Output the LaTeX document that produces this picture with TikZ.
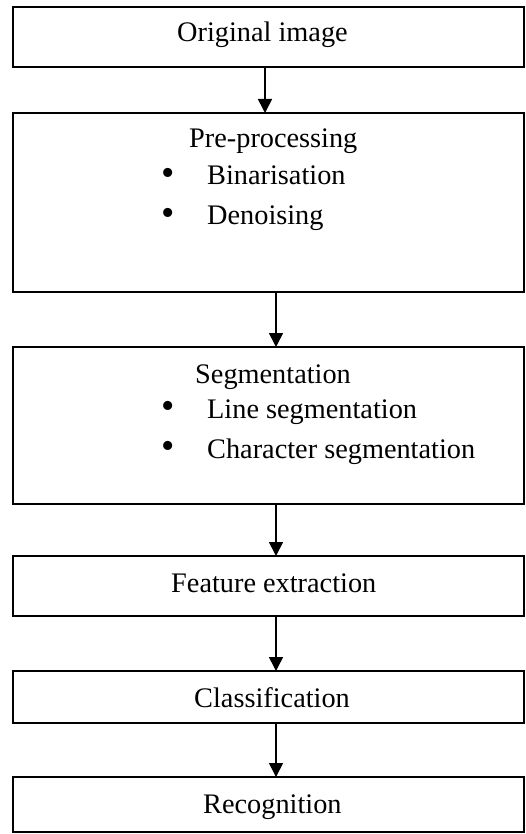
\documentclass[tikz,border=0pt]{standalone}
\usepackage{fontspec}
\setmainfont{Liberation Serif}
\usetikzlibrary{arrows.meta}
\begin{document}
\begin{tikzpicture}[x=1pt,y=1pt,
  box/.style={draw=black,line width=1.3pt,fill=none,inner sep=0pt,outer sep=0pt,anchor=north west,minimum width=511pt},
  lbl/.style={inner sep=0pt,anchor=base west,font=\fontsize{28.3}{33}\selectfont},
  bul/.style={inner sep=0pt,anchor=center,font=\fontsize{38}{40}\selectfont},
  arr/.style={line width=1.6pt,-{Triangle[width=14pt,length=14pt]}}]
\useasboundingbox (0,0) rectangle (525,-834);
% boxes
\node[box,minimum height=60pt]  (b1) at (13,-7) {};
\node[box,minimum height=179pt] (b2) at (13,-113) {};
\node[box,minimum height=157pt] (b3) at (13,-347) {};
\node[box,minimum height=60pt]  (b4) at (13,-556) {};
\node[box,minimum height=52pt]  (b5) at (13,-671) {};
\node[box,minimum height=55pt]  (b6) at (13,-777) {};
% texts
\node[lbl] (t1) at (177,-42) {Original image};
\node[lbl] (t2) at (189,-148) {Pre-processing};
\node[bul] (d21) at (168,-177) {•};
\node[lbl] (t21) at (207,-185) {Binarisation};
\node[bul] (d22) at (168,-217) {•};
\node[lbl] (t22) at (207,-225) {Denoising};
\node[lbl] (t3) at (195,-383) {Segmentation};
\node[bul] (d31) at (168,-410) {•};
\node[lbl] (t31) at (207,-418) {Line segmentation};
\node[bul] (d32) at (168,-450) {•};
\node[lbl] (t32) at (207,-458) {Character segmentation};
\node[lbl] (t4) at (171,-592) {Feature extraction};
\node[lbl] (t5) at (194,-707) {Classification};
\node[lbl] (t6) at (203,-813) {Recognition};
% arrows
\coordinate (xa) at (265,0);
\coordinate (xb) at (276,0);
\draw[arr] (b1.south -| xa) -- (b2.north -| xa);
\draw[arr] (b2.south -| xb) -- (b3.north -| xb);
\draw[arr] (b3.south -| xb) -- (b4.north -| xb);
\draw[arr] (b4.south -| xb) -- (b5.north -| xb);
\draw[arr] (b5.south -| xb) -- (b6.north -| xb);
\end{tikzpicture}
\end{document}
